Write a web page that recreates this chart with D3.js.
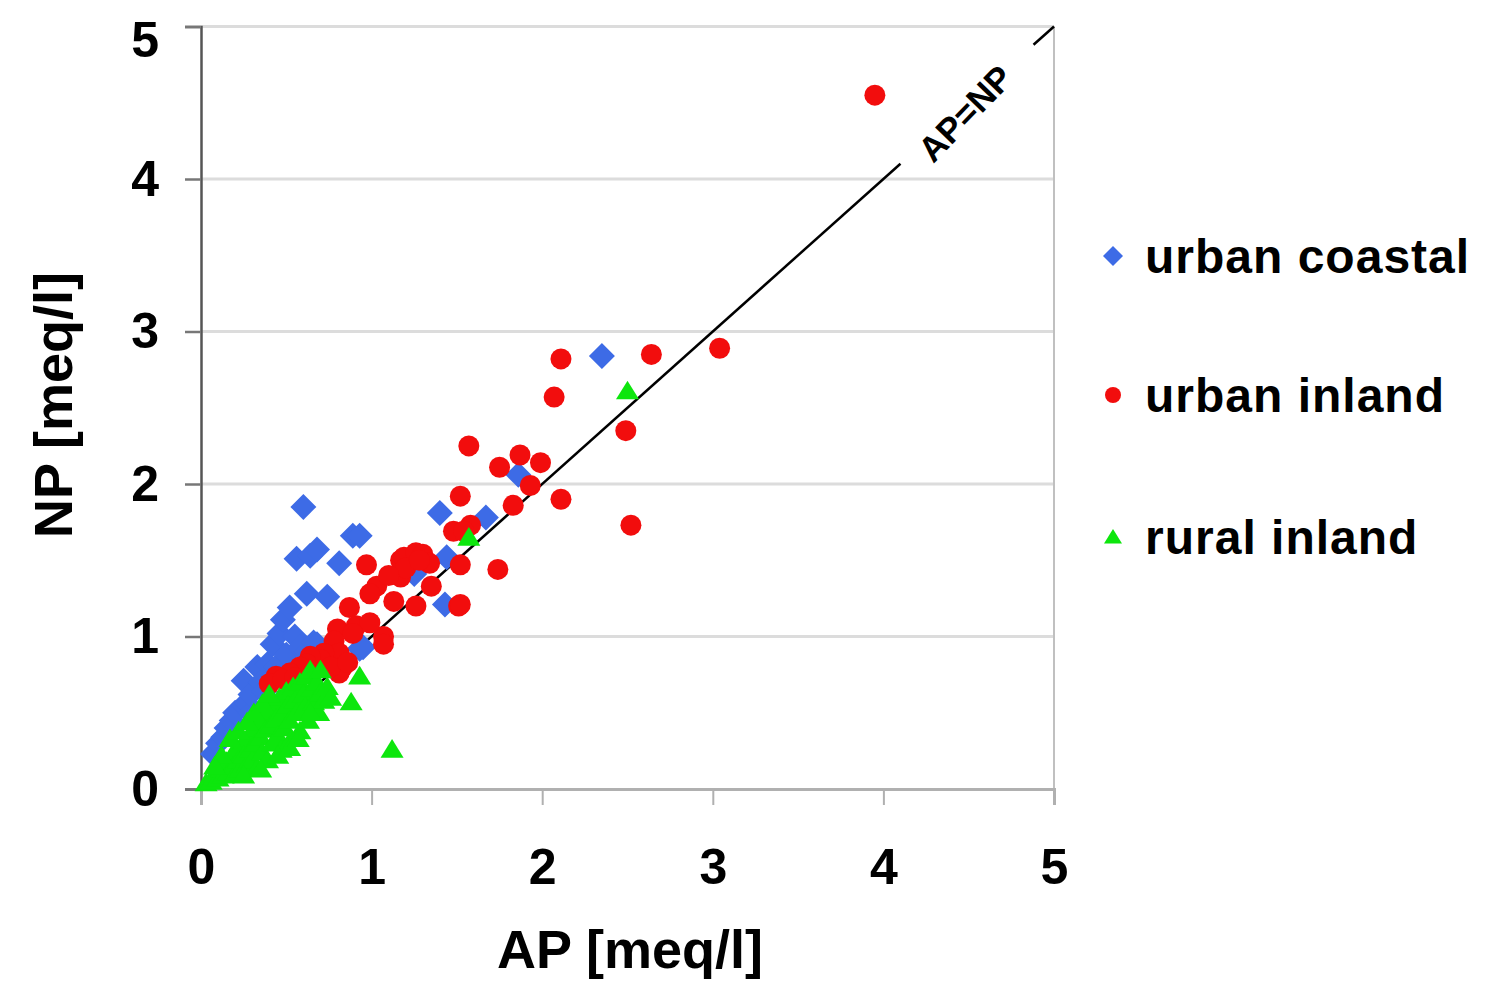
<!DOCTYPE html>
<html>
<head>
<meta charset="utf-8">
<script src="https://cdn.jsdelivr.net/npm/d3@7"></script>
<style>
  body { margin: 0; background: #fff; }
  svg { font-family: "Liberation Sans", Arial, sans-serif; font-weight: bold; }
</style>
</head>
<body>
<svg id="svg" width="1502" height="1000"></svg>
<script>
// AP vs NP [meq/l]
const urbanCoastal = [
  [0.07, 0.23], [0.10, 0.30], [0.13, 0.34], [0.15, 0.40], [0.18, 0.45], [0.20, 0.50],
  [0.25, 0.55], [0.27, 0.56], [0.29, 0.50], [0.25, 0.71], [0.29, 0.62], [0.33, 0.80],
  [0.35, 0.70], [0.37, 0.64], [0.39, 0.82], [0.42, 0.95], [0.44, 0.80], [0.46, 1.02],
  [0.48, 1.11], [0.52, 1.19], [0.50, 0.88], [0.55, 1.00], [0.58, 0.93], [0.62, 0.90],
  [0.66, 0.96], [0.68, 0.95], [0.60, 1.85], [0.56, 1.51], [0.64, 1.53], [0.68, 1.57],
  [0.81, 1.48], [0.89, 1.66], [0.93, 1.66], [0.62, 1.28], [0.74, 1.26], [0.93, 0.92],
  [0.95, 0.93], [1.25, 1.41], [1.26, 1.44], [1.40, 1.81], [1.44, 1.52], [1.43, 1.21],
  [1.67, 1.78], [1.86, 2.06], [2.35, 2.84], [0.45, 0.55], [0.40, 0.45], [0.55, 0.70],
  [0.35, 0.40]
];
const urbanInland = [
  [3.95, 4.55], [3.04, 2.89], [2.64, 2.85], [2.11, 2.82], [2.07, 2.57], [2.49, 2.35],
  [1.57, 2.25], [1.87, 2.19], [1.99, 2.14], [1.75, 2.11], [1.93, 1.99], [2.11, 1.90],
  [1.52, 1.92], [1.83, 1.86], [2.52, 1.73], [1.58, 1.73], [1.48, 1.69], [1.54, 1.69],
  [1.52, 1.47], [1.74, 1.44], [1.51, 1.20], [1.52, 1.21], [0.97, 1.47], [1.17, 1.50],
  [1.19, 1.52], [1.26, 1.55], [1.30, 1.54], [1.34, 1.48], [1.17, 1.39], [1.35, 1.33],
  [1.03, 1.33], [0.99, 1.28], [1.13, 1.23], [1.26, 1.20], [0.87, 1.19], [1.07, 1.00],
  [1.07, 0.95], [0.80, 1.05], [0.91, 1.07], [0.99, 1.09], [0.89, 1.02], [0.78, 0.97],
  [0.81, 0.89], [0.83, 0.80], [0.81, 0.76], [0.72, 0.89], [0.70, 0.85], [0.64, 0.87],
  [0.62, 0.82], [0.58, 0.80], [0.52, 0.76], [0.44, 0.74], [0.40, 0.69], [0.48, 0.72],
  [0.55, 0.73], [0.76, 0.80], [0.86, 0.83], [1.20, 1.45], [1.28, 1.50], [1.10, 1.40]
];
const ruralInland = [
  [0.03, 0.04], [0.06, 0.05], [0.08, 0.10], [0.10, 0.07], [0.12, 0.13], [0.13, 0.09],
  [0.15, 0.18], [0.16, 0.11], [0.18, 0.22], [0.19, 0.15], [0.20, 0.10], [0.21, 0.27],
  [0.22, 0.19], [0.23, 0.13], [0.25, 0.31], [0.25, 0.22], [0.27, 0.16], [0.28, 0.35],
  [0.29, 0.26], [0.30, 0.19], [0.31, 0.40], [0.32, 0.30], [0.33, 0.14], [0.34, 0.44],
  [0.35, 0.34], [0.36, 0.24], [0.37, 0.48], [0.38, 0.39], [0.39, 0.19], [0.40, 0.52],
  [0.41, 0.42], [0.42, 0.30], [0.43, 0.56], [0.44, 0.46], [0.45, 0.35], [0.46, 0.60],
  [0.47, 0.26], [0.48, 0.50], [0.49, 0.40], [0.50, 0.64], [0.51, 0.55], [0.52, 0.45],
  [0.53, 0.33], [0.54, 0.67], [0.55, 0.58], [0.56, 0.50], [0.58, 0.70], [0.58, 0.38],
  [0.60, 0.62], [0.61, 0.54], [0.62, 0.74], [0.63, 0.45], [0.64, 0.78], [0.65, 0.66],
  [0.66, 0.57], [0.68, 0.70], [0.69, 0.50], [0.70, 0.63], [0.72, 0.58], [0.74, 0.67],
  [0.76, 0.60], [0.64, 0.50], [0.70, 0.78], [0.17, 0.33], [0.22, 0.38], [0.27, 0.44],
  [0.31, 0.50], [0.36, 0.56], [0.40, 0.62], [0.12, 0.22], [0.08, 0.15], [0.25, 0.09],
  [0.35, 0.13], [0.45, 0.22], [0.52, 0.27], [0.57, 0.33],
  [0.88, 0.57], [0.93, 0.74], [1.12, 0.26], [1.57, 1.65], [2.50, 2.61]
];
const seriesNames = ["urban coastal", "urban inland", "rural inland"];
const seriesColors = ["#3d6be6", "#f20d0d", "#0de60d"];
const tickValues = [0, 1, 2, 3, 4, 5];

const svg = d3.select("#svg");
const x = d3.scaleLinear().domain([0, 5]).range([201, 1054]);
const y = d3.scaleLinear().domain([0, 5]).range([789, 26.5]);

// marker shapes, r = half width
function shape(kind, r) {
  if (kind === 0) return `M0,${-r}L${r},0L0,${r}L${-r},0Z`;
  if (kind === 1) return d3.arc()({ innerRadius: 0, outerRadius: r, startAngle: 0, endAngle: 2 * Math.PI });
  let h = r * 0.9;
  return `M0,${-h}L${r},${h * 0.8}L${-r},${h * 0.8}Z`;
}

// grid lines
svg.append("g")
  .selectAll("line")
  .data(tickValues.slice(1))
  .join("line")
  .attr("x1", x(0)).attr("x2", x(5))
  .attr("y1", d => y(d)).attr("y2", d => y(d))
  .attr("stroke", "#dcdcdc").attr("stroke-width", 3);

// right border
svg.append("line")
  .attr("x1", x(5)).attr("x2", x(5))
  .attr("y1", y(5)).attr("y2", y(0))
  .attr("stroke", "#c0c0c0").attr("stroke-width", 2);

// x axis
let gx = svg.append("g")
  .attr("transform", `translate(0,${y(0)})`)
  .call(d3.axisBottom(x).tickValues(tickValues).tickFormat(d3.format("d")).tickSize(16).tickPadding(43));
gx.select(".domain").attr("stroke", "#b0b0b0").attr("stroke-width", 3);
gx.selectAll(".tick line").attr("stroke", "#b0b0b0").attr("stroke-width", 2);
gx.selectAll(".tick text").attr("font-size", 50).attr("fill", "#000");

// y axis
let gy = svg.append("g")
  .attr("transform", `translate(${x(0)},0)`)
  .call(d3.axisLeft(y).tickValues(tickValues).tickFormat(d3.format("d")).tickSize(16).tickPadding(26));
gy.select(".domain").attr("stroke", "#555").attr("stroke-width", 2.5);
gy.selectAll(".tick line").attr("stroke", "#777").attr("stroke-width", 2.5);
gy.selectAll(".tick text").attr("font-size", 50).attr("fill", "#000")
  .filter(d => d === 5).attr("dy", "0.6em");

// AP=NP line, broken for its label
const diag = [[[0, 0], [4.1, 4.1]], [[4.88, 4.88], [5, 5]]];
svg.append("g")
  .selectAll("line")
  .data(diag)
  .join("line")
  .attr("x1", d => x(d[0][0])).attr("y1", d => y(d[0][1]))
  .attr("x2", d => x(d[1][0])).attr("y2", d => y(d[1][1]))
  .attr("stroke", "#000").attr("stroke-width", 2.5);
svg.append("text")
  .attr("transform", `translate(${x(4.48)},${y(4.43)}) rotate(-46)`)
  .attr("text-anchor", "middle").attr("dy", "0.35em")
  .attr("font-size", 35)
  .text("AP=NP");

// points, drawn in series order
[urbanCoastal, urbanInland, ruralInland].forEach((pts, i) => {
  let r = [13, 10.5, 11.5][i];
  svg.append("g")
    .selectAll("path")
    .data(pts)
    .join("path")
    .attr("d", shape(i, r))
    .attr("transform", d => `translate(${x(d[0])},${y(d[1])})`)
    .attr("fill", seriesColors[i]);
});

// axis titles
svg.append("text")
  .attr("x", 630).attr("y", 968)
  .attr("text-anchor", "middle")
  .attr("font-size", 54)
  .text("AP [meq/l]");
svg.append("text")
  .attr("transform", "translate(72,405) rotate(-90)")
  .attr("text-anchor", "middle")
  .attr("font-size", 54)
  .text("NP [meq/l]");

// legend
const legendY = [256, 395, 537];
let lg = svg.append("g")
  .selectAll("g")
  .data(seriesNames)
  .join("g")
  .attr("transform", (d, i) => `translate(1113,${legendY[i]})`);
lg.append("path")
  .attr("d", (d, i) => shape(i, [10, 8, 9][i]))
  .attr("fill", (d, i) => seriesColors[i]);
lg.append("text")
  .attr("x", 32).attr("dy", "0.36em")
  .attr("font-size", 48)
  .attr("letter-spacing", 1)
  .text(d => d);
</script>
</body>
</html>
